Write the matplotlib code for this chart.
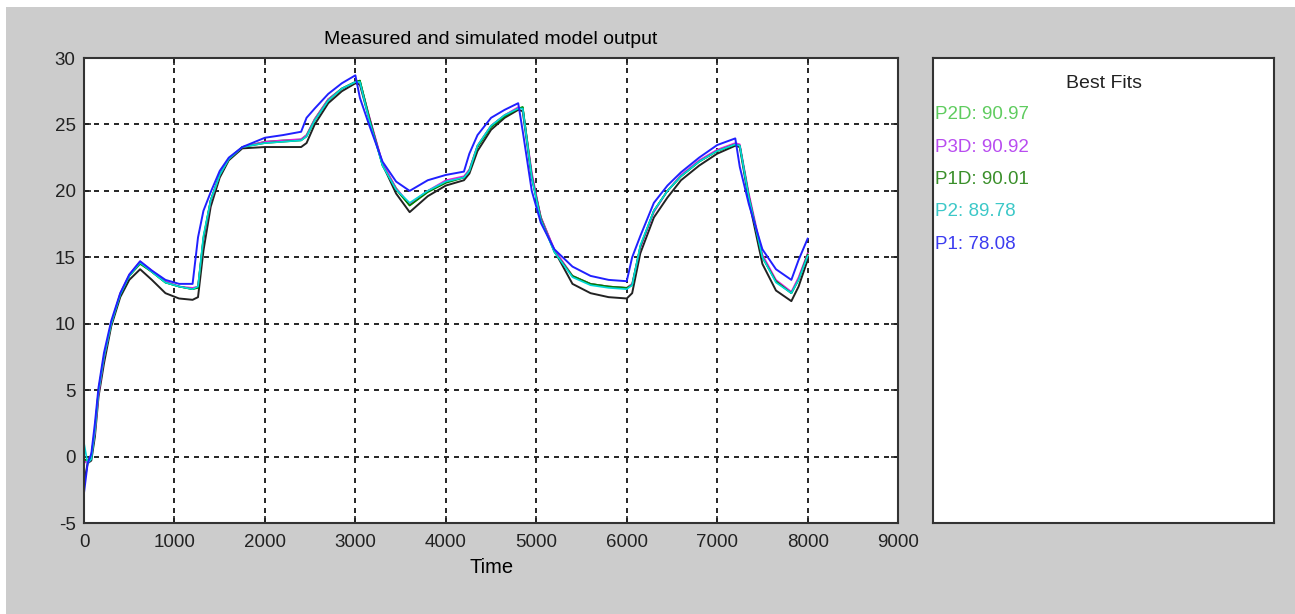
import matplotlib
matplotlib.use('Agg')
import matplotlib.pyplot as plt
from matplotlib.patches import Rectangle

plt.rcParams['font.family'] = ['Liberation Sans', 'DejaVu Sans']
plt.rcParams['axes.unicode_minus'] = False

# time grid shared by all curves
time = [0, 40, 80, 120, 160, 220, 300, 400, 500, 620, 750, 900, 1050, 1200,
        1260, 1320, 1400, 1500, 1600, 1750, 2000, 2200, 2400, 2460, 2550, 2700,
        2850, 3000, 3050, 3150, 3300, 3450, 3600, 3800, 4000, 4200, 4260, 4350,
        4500, 4650, 4800, 4850, 4950, 5050, 5200, 5400, 5600, 5800, 6000, 6060,
        6150, 6300, 6450, 6600, 6800, 7000, 7200, 7250, 7350, 7500, 7650, 7820,
        7900, 8000]

measured = [-2.0, -0.5, -0.3, 1.5, 4.5, 7.0, 9.8, 12.0, 13.3, 14.1, 13.3, 12.3,
            11.9, 11.8, 12.0, 15.5, 18.8, 21.0, 22.3, 23.2, 23.3, 23.3, 23.3,
            23.6, 25.0, 26.6, 27.5, 28.1, 28.0, 25.5, 22.0, 19.8, 18.4, 19.6,
            20.4, 20.8, 21.3, 23.0, 24.6, 25.5, 26.1, 26.0, 21.0, 18.0, 15.5,
            13.0, 12.3, 12.0, 11.9, 12.3, 15.3, 18.0, 19.5, 20.8, 21.9, 22.8,
            23.4, 23.3, 19.3, 14.5, 12.5, 11.7, 12.8, 14.8]

p2d = [-0.3, -0.4, 0.0, 2.0, 4.9, 7.5, 10.0, 12.2, 13.6, 14.6, 13.9, 13.1,
       12.8, 12.6, 12.8, 16.5, 19.3, 21.2, 22.4, 23.3, 23.7, 23.8, 23.85,
       24.2, 25.4, 26.9, 27.7, 28.2, 28.3, 25.6, 22.0, 20.2, 18.9, 20.0,
       20.7, 21.0, 21.6, 23.4, 24.9, 25.7, 26.2, 26.3, 21.2, 17.9, 15.5,
       13.6, 13.0, 12.8, 12.7, 13.0, 15.8, 18.5, 20.0, 21.1, 22.2, 23.0,
       23.5, 23.4, 19.6, 15.0, 13.2, 12.3, 13.4, 15.2]

p3d = [-0.5, -0.3, 0.1, 1.8, 4.7, 7.4, 10.0, 12.3, 13.7, 14.7, 14.0, 13.2,
       12.8, 12.7, 12.8, 16.3, 19.2, 21.2, 22.4, 23.3, 23.7, 23.8, 23.9,
       24.2, 25.4, 26.9, 27.7, 28.2, 28.2, 25.7, 22.1, 20.2, 19.0, 20.0,
       20.8, 21.1, 21.6, 23.4, 24.9, 25.7, 26.3, 26.2, 21.4, 18.0, 15.6,
       13.6, 13.0, 12.8, 12.7, 13.0, 15.7, 18.4, 20.0, 21.2, 22.3, 23.1,
       23.6, 23.5, 19.8, 15.2, 13.3, 12.4, 13.5, 15.3]

p1d = [-0.2, -0.3, 0.0, 2.1, 5.0, 7.5, 10.0, 12.2, 13.6, 14.5, 13.9, 13.1,
       12.8, 12.6, 12.7, 16.4, 19.3, 21.2, 22.4, 23.3, 23.6, 23.7, 23.8,
       24.1, 25.3, 26.8, 27.7, 28.2, 28.3, 25.6, 21.9, 20.1, 18.9, 19.9,
       20.6, 21.0, 21.5, 23.3, 24.8, 25.6, 26.2, 26.3, 21.1, 17.9, 15.4,
       13.6, 13.0, 12.8, 12.7, 12.9, 15.8, 18.5, 20.0, 21.1, 22.2, 23.0,
       23.5, 23.4, 19.6, 15.0, 13.2, 12.3, 13.3, 15.2]

p2 = [1.0, -0.5, -0.2, 2.0, 4.9, 7.5, 10.0, 12.2, 13.6, 14.6, 13.9, 13.1,
      12.8, 12.6, 12.8, 16.6, 19.3, 21.2, 22.4, 23.3, 23.6, 23.7, 23.8,
      24.1, 25.3, 26.8, 27.7, 28.2, 28.2, 25.4, 21.9, 20.1, 19.1, 20.0,
      20.7, 21.0, 21.5, 23.4, 24.9, 25.7, 26.2, 26.2, 21.0, 17.8, 15.4,
      13.5, 12.9, 12.7, 12.6, 12.9, 15.9, 18.5, 20.0, 21.1, 22.2, 23.0,
      23.5, 23.4, 19.5, 15.0, 13.1, 12.3, 13.3, 15.1]

p1 = [-2.7, -0.5, 0.2, 2.5, 5.2, 7.8, 10.2, 12.3, 13.7, 14.7, 14.0, 13.3,
      13.0, 13.0, 16.5, 18.5, 19.9, 21.5, 22.5, 23.3, 24.0, 24.2, 24.45,
      25.5, 26.2, 27.3, 28.1, 28.7, 27.0, 25.0, 22.2, 20.7, 20.0, 20.8,
      21.2, 21.45, 22.8, 24.2, 25.5, 26.1, 26.6, 24.5, 20.0, 17.6, 15.6,
      14.3, 13.6, 13.3, 13.2, 15.0, 16.6, 19.1, 20.4, 21.4, 22.5, 23.45,
      23.95, 21.8, 19.0, 15.6, 14.1, 13.3, 14.8, 16.4]

fit_names = ['P2D', 'P3D', 'P1D', 'P2', 'P1']
fit_scores = [90.97, 90.92, 90.01, 89.78, 78.08]
text_colors = ['#5fcc5f', '#b84cf0', '#3a8f2a', '#3cc8c8', '#3c3cf0']

fig = plt.figure(figsize=(12.95, 6.14), dpi=100)
fig.patch.set_facecolor('white')
fig.patches.append(Rectangle((6 / 1295, 0), 1, 1 - 7 / 614,
                             transform=fig.transFigure, facecolor='#cccccc',
                             edgecolor='none', zorder=-10))

ax = fig.add_axes([0.0649, 0.1482, 0.6286, 0.7573])
ax.plot(time, measured, color='#222222', lw=1.4)
ax.plot(time, p2d, color='#00b000', lw=1.2)
ax.plot(time, p3d, color='#e020e0', lw=1.2)
ax.plot(time, p1d, color='#008000', lw=1.2)
ax.plot(time, p2, color='#00d8d8', lw=1.2)
ax.plot(time, p1, color='#2020ff', lw=1.4)

ax.set_xlim(0, 9000)
ax.set_ylim(-5, 30)
ax.set_xticks(range(0, 9001, 1000))
ax.set_yticks(range(-5, 31, 5))
ax.grid(True, color='black', linestyle=(0, (3, 3)), lw=1.2)
ax.tick_params(direction='in', labelsize=13.5, length=5, width=1.2,
               top=True, right=True, colors='#222222')
ax.tick_params(axis='x', pad=8)
ax.tick_params(axis='y', pad=6)
for s in ax.spines.values():
    s.set_linewidth(1.5)
    s.set_color('#333333')
ax.set_title('Measured and simulated model output', fontsize=14, pad=10)
ax.set_xlabel('Time', fontsize=14.5, labelpad=5)

lg = fig.add_axes([0.7205, 0.1482, 0.2633, 0.7573])
lg.set_xticks([])
lg.set_yticks([])
for s in lg.spines.values():
    s.set_linewidth(1.5)
    s.set_color('#333333')
lg.text(0.5, 0.945, 'Best Fits', ha='center', va='center', fontsize=14,
        transform=lg.transAxes, color='#222222')
for i, (name, score) in enumerate(zip(fit_names, fit_scores)):
    lg.text(0.005, 0.878 - i * 0.0695, f'{name}: {score:.2f}', ha='left',
            va='center', fontsize=13.5, color=text_colors[i],
            transform=lg.transAxes)

fig.savefig('out.png', dpi=100)
